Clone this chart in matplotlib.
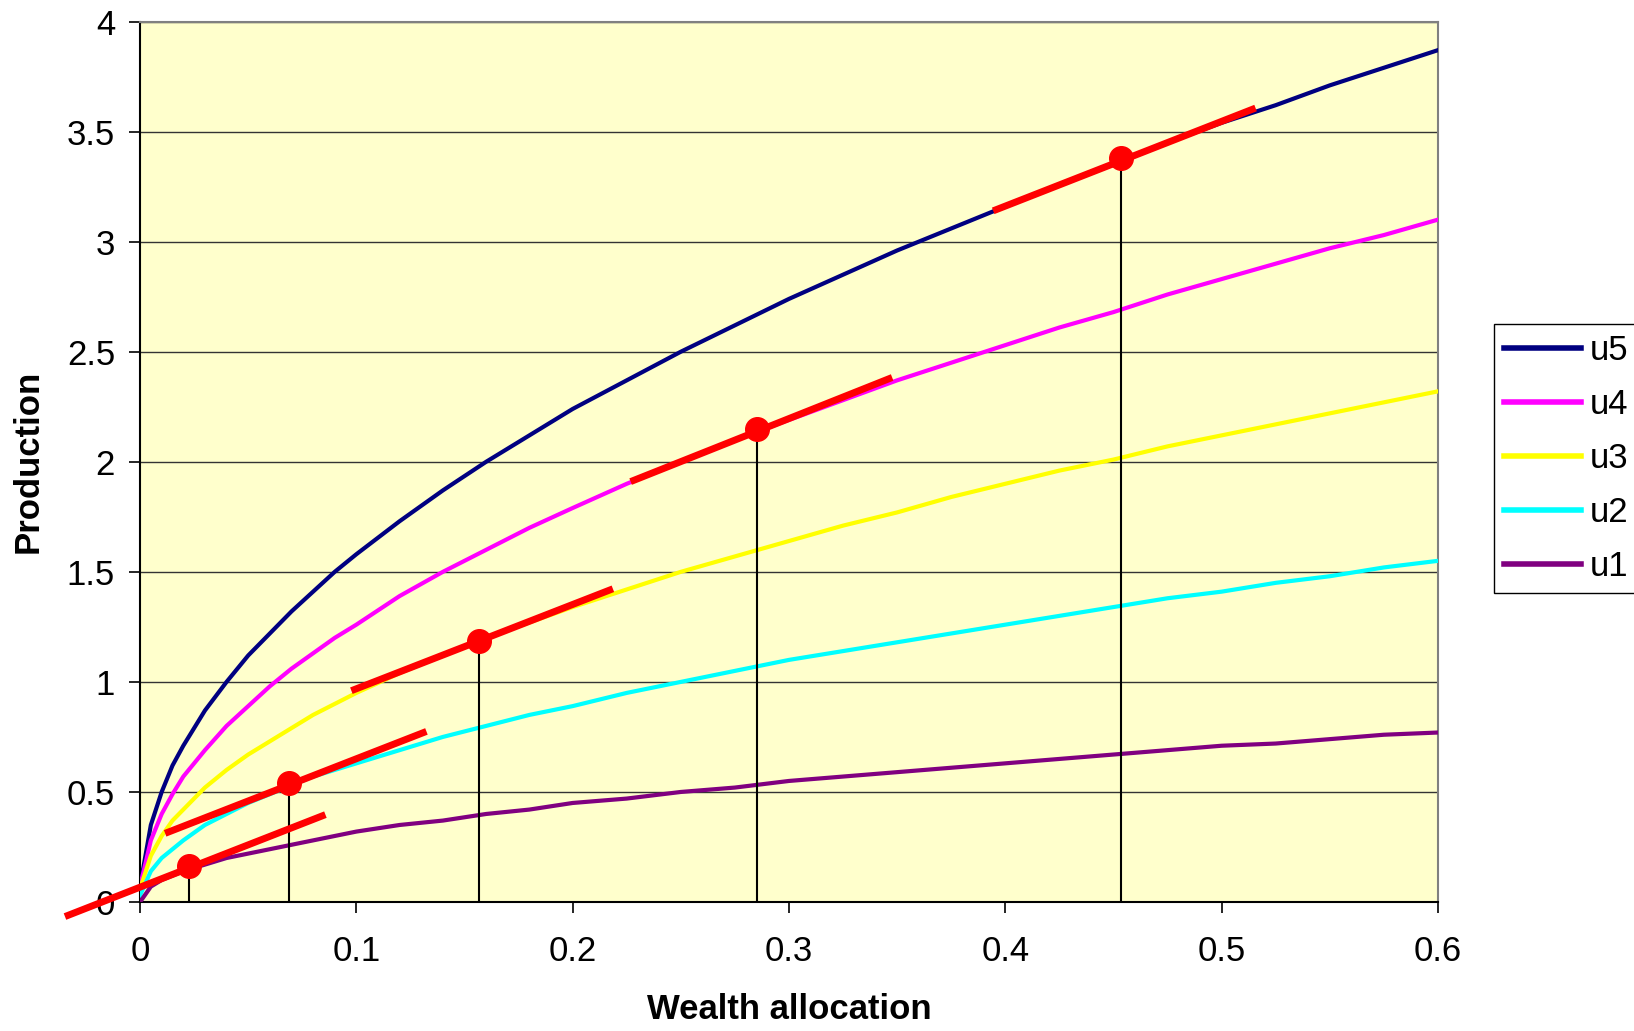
import matplotlib.pyplot as plt

plt.rcParams['font.family'] = ['Liberation Sans', 'DejaVu Sans']

# Wealth allocation values (x) shared by all curves
wealth = [0, 0.005, 0.01, 0.015, 0.02, 0.03, 0.04, 0.05, 0.06, 0.07, 0.08, 0.09, 0.1,
          0.12, 0.14, 0.16, 0.18, 0.2, 0.225, 0.25, 0.275, 0.3, 0.325, 0.35, 0.375,
          0.4, 0.425, 0.45, 0.475, 0.5, 0.525, 0.55, 0.575, 0.6]

# Production curves
u5 = [0.07, 0.35, 0.50, 0.62, 0.71, 0.87, 1.00, 1.12, 1.22, 1.32, 1.41, 1.50, 1.58,
      1.73, 1.87, 2.00, 2.12, 2.24, 2.37, 2.50, 2.62, 2.74, 2.85, 2.96, 3.06,
      3.16, 3.26, 3.35, 3.45, 3.54, 3.62, 3.71, 3.79, 3.87]
u4 = [0.07, 0.28, 0.40, 0.49, 0.57, 0.69, 0.80, 0.89, 0.98, 1.06, 1.13, 1.20, 1.26,
      1.39, 1.50, 1.60, 1.70, 1.79, 1.90, 2.00, 2.10, 2.19, 2.28, 2.37, 2.45,
      2.53, 2.61, 2.68, 2.76, 2.83, 2.90, 2.97, 3.03, 3.10]
u3 = [0.06, 0.21, 0.30, 0.37, 0.42, 0.52, 0.60, 0.67, 0.73, 0.79, 0.85, 0.90, 0.95,
      1.04, 1.12, 1.20, 1.27, 1.34, 1.42, 1.50, 1.57, 1.64, 1.71, 1.77, 1.84,
      1.90, 1.96, 2.01, 2.07, 2.12, 2.17, 2.22, 2.27, 2.32]
u2 = [0.03, 0.14, 0.20, 0.24, 0.28, 0.35, 0.40, 0.45, 0.49, 0.53, 0.57, 0.60, 0.63,
      0.69, 0.75, 0.80, 0.85, 0.89, 0.95, 1.00, 1.05, 1.10, 1.14, 1.18, 1.22,
      1.26, 1.30, 1.34, 1.38, 1.41, 1.45, 1.48, 1.52, 1.55]
u1 = [0.00, 0.07, 0.10, 0.12, 0.14, 0.17, 0.20, 0.22, 0.24, 0.26, 0.28, 0.30, 0.32,
      0.35, 0.37, 0.40, 0.42, 0.45, 0.47, 0.50, 0.52, 0.55, 0.57, 0.59, 0.61,
      0.63, 0.65, 0.67, 0.69, 0.71, 0.72, 0.74, 0.76, 0.77]

series = {'u5': u5, 'u4': u4, 'u3': u3, 'u2': u2, 'u1': u1}
colors = {'u5': '#000080', 'u4': '#FF00FF', 'u3': '#FFFF00', 'u2': '#00FFFF', 'u1': '#800080'}

# Optimal allocation points (red dots) and tangent segments through them
opt_x = [0.0226, 0.0689, 0.1565, 0.285, 0.4536]
opt_y = [0.165, 0.539, 1.187, 2.147, 3.38]
tan_x_start = [-0.0347, 0.0116, 0.0977, 0.2268, 0.3944]
tan_x_end = [0.0857, 0.1324, 0.2186, 0.3477, 0.5157]
tan_y_start = [-0.066, 0.312, 0.960, 1.910, 3.140]
tan_y_end = [0.397, 0.775, 1.423, 2.383, 3.607]

fig = plt.figure(figsize=(16.34, 10.31), dpi=100)
ax = fig.add_axes([0.0857, 0.1251, 0.880 - 0.0857, 0.9791 - 0.1251])
ax.set_facecolor('#FFFFCC')

for name, vals in series.items():
    ax.plot(wealth, vals, color=colors[name], linewidth=3, label=name, zorder=3)

# Vertical drop lines from each optimum to the x axis
for x, y in zip(opt_x, opt_y):
    ax.plot([x, x], [0, y], color='black', linewidth=1.5, zorder=4)

# Tangent lines (equal slope) - they stick out of the plot area at the bottom left
for xs, xe, ys, ye in zip(tan_x_start, tan_x_end, tan_y_start, tan_y_end):
    ax.plot([xs, xe], [ys, ye], color='#FF0000', linewidth=5, solid_capstyle='butt',
            zorder=5, clip_on=False)

ax.plot(opt_x, opt_y, 'o', color='#FF0000', markersize=17, zorder=6, clip_on=False)

ax.set_xlim(0, 0.6)
ax.set_ylim(0, 4)
ax.set_xticks([0, 0.1, 0.2, 0.3, 0.4, 0.5, 0.6])
ax.set_xticklabels(['0', '0.1', '0.2', '0.3', '0.4', '0.5', '0.6'])
ax.set_yticks([0, 0.5, 1, 1.5, 2, 2.5, 3, 3.5, 4])
ax.set_yticklabels(['0', '0.5', '1', '1.5', '2', '2.5', '3', '3.5', '4'])
ax.tick_params(axis='both', direction='out', length=8, width=1.2, labelsize=25)
ax.tick_params(axis='x', pad=16)
ax.tick_params(axis='y', pad=10)

ax.grid(axis='y', color='#333333', linewidth=1.0)
ax.set_axisbelow(True)

for side in ['left', 'bottom']:
    ax.spines[side].set_color('black')
    ax.spines[side].set_linewidth(1.5)
for side in ['top', 'right']:
    ax.spines[side].set_color('#808080')
    ax.spines[side].set_linewidth(1.5)

ax.set_xlabel('Wealth allocation', fontsize=25, fontweight='bold', labelpad=18)
ax.set_ylabel('Production', fontsize=25, fontweight='bold', labelpad=16)

leg = fig.legend(loc='upper left', bbox_to_anchor=(0.9143, 0.6857), fontsize=25,
                 frameon=True, fancybox=False, edgecolor='black', framealpha=1,
                 handlelength=2.2, handletextpad=0.25, labelspacing=0.6,
                 borderpad=0.3, borderaxespad=0)
leg.get_frame().set_linewidth(1.0)
for line in leg.get_lines():
    line.set_linewidth(4)

plt.savefig('out.png', dpi=100)
plt.close()
